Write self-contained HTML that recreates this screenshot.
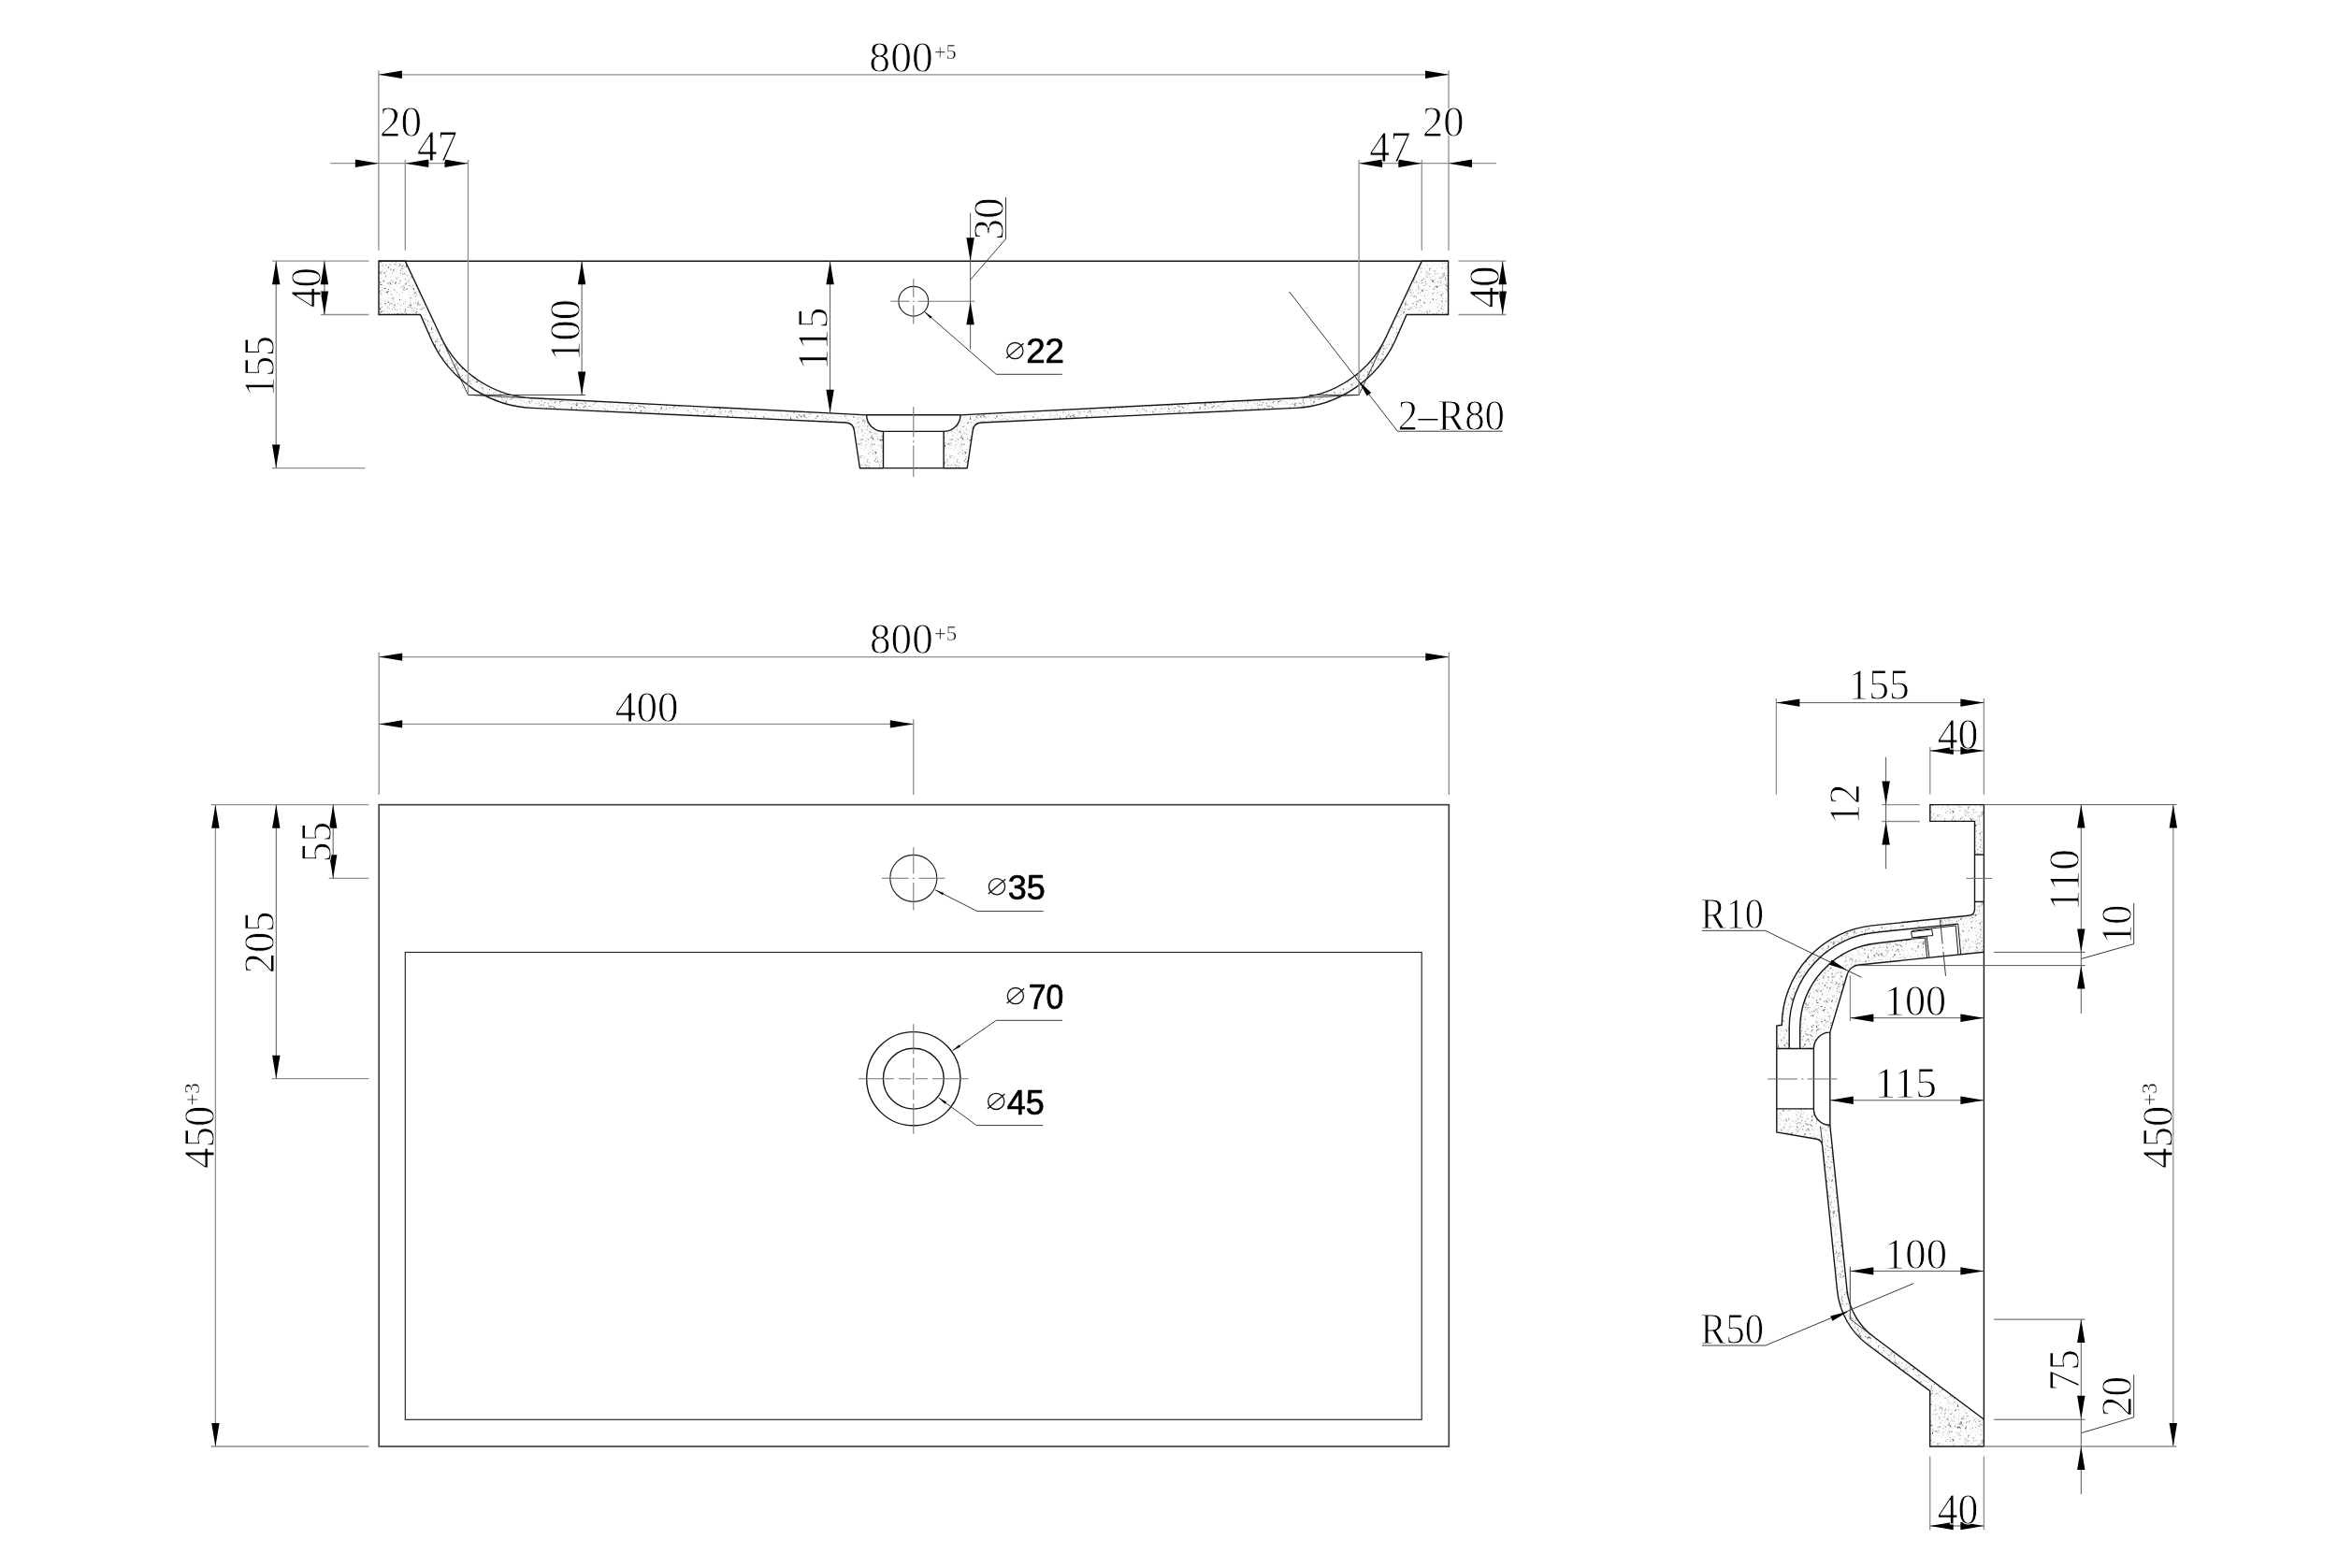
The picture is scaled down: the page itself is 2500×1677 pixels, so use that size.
<!DOCTYPE html>
<html><head><meta charset="utf-8"><title>Basin drawing</title><style>
html,body{margin:0;padding:0;background:#fff}
svg{display:block;will-change:transform}
text{font-family:"Liberation Serif",serif;fill:#000;stroke:#fff;stroke-width:0.9;stroke-linejoin:round}
text.ss{stroke-width:0.35}
text.n{font-family:"Liberation Sans",sans-serif;stroke:#000;stroke-width:0.7}
.k{fill:none;stroke:#161616;stroke-width:1.4;stroke-linejoin:miter}
.kh{fill:url(#hp);stroke:#161616;stroke-width:1.4;stroke-linejoin:miter}
.h{fill:url(#hp);stroke:none}
.kp{fill:none;stroke:#424242;stroke-width:1.7}
.k2{fill:none;stroke:#222;stroke-width:1.15}
.k3{fill:none;stroke:#151515;stroke-width:1.0}
.t{fill:none;stroke:#8e8e8e;stroke-width:1.3}
.t2{fill:none;stroke:#555;stroke-width:1.0}
.u{fill:none;stroke:#2e2e2e;stroke-width:0.95}
.c{fill:none;stroke:#747474;stroke-width:1.05}
.v{fill:none;stroke:none}
.d{fill:none;stroke:#111;stroke-width:1.3}
.a{fill:#000;stroke:none}
</style></head><body>
<svg width="2500" height="1677" viewBox="0 0 2500 1677">
<defs><pattern id="hp" width="96" height="96" patternUnits="userSpaceOnUse"><rect width="96" height="96" fill="#fdfdfd"/><path d="M5.57 48.71h.01M13.85 11.31h.01M52.58 6.03l-0.7 1.11M76.26 67.1h.01M14.59 46.94h.01M78.9 27.32h.01M2.17 44.32l1.69 0.32M12.42 23.77h.01M78.65 82.94h.01M0.39 40.22h.01M83.95 76.6h.01M9.94 60.89l0.79 0.61M32.65 5.05l1.17 0.39M44.73 46.45l0.53 0.98M79.57 15.5h.01M82.88 66.83h.01M21.77 49.69l1.13 0.1M21.16 21.78l-0.71 1.74M72.01 45.89h.01M86.87 77.42h.01M94.11 63.1h.01M79.31 20.26h.01M23.09 56.3h.01M12.58 87.36h.01M0.38 76.72h.01M69.62 53.42h.01M53.32 75.29h.01M6.96 23.1h.01M75.26 86.11h.01M21.08 91.44h.01M95.03 79.91h.01M49.5 32.56h.01M10.06 25.49h.01M78.62 24.83h.01M54.78 67.24l-0.73 1.09M8.04 82.2h.01M10.51 15.5l0.65 0.97M47.52 80.12h.01M66.02 94.31h.01M5.22 12.46h.01M24.54 15.67h.01M83.57 64.37h.01M28.13 44.11h.01M23.47 92.7h.01M19.29 48.45h.01M8.62 38.35l0.62 0.88M68.74 84.39h.01M70.45 77.97h.01M22.07 2.99h.01M93.9 89.88h.01M20.14 90.78h.01M85.14 67.52h.01M46.67 2.38h.01M43.27 28.99h.01M30.34 80.66h.01M86.55 27.82h.01M95.88 56.56h.01M26.41 4.63h.01M27.42 89.82h.01M49.05 18.23h.01M72.26 61.87l-0.93 0.22M45.33 32.99h.01M53.5 37.86l1.5 1.15M43.2 13.4l0.43 0.8M36.18 32.47h.01M82.83 20.73h.01M83.8 2.09h.01M43.9 52.94h.01M21.77 3.27h.01M78.72 22.16h.01M63.87 91.08h.01M20.44 93.52l1.25 0.24M89.43 31.61h.01M35.89 31.84l0.78 0.94M78.91 41.52h.01M35.78 88.27h.01M73.6 3.9l-1.07 0.28M71.74 86.26h.01M91.94 59.23h.01M30.38 26.46h.01M91.85 91.58h.01M23.74 6.21h.01M25.43 8.07h.01M68.14 42.91h.01M80.69 87.78h.01M20.89 35.4l1.06 1.09M62.56 19.53h.01M65.12 17.77l-1.17 0.87M6.07 9.73h.01M61.36 8.75h.01M39.34 27.2h.01M29.99 54.39h.01M82.97 95.68l-0.69 0.79M61.5 87.34h.01M35.6 48.43h.01M50.03 88.85h.01M77.26 92.82l-1.94 0.35M49.72 36.82h.01M69.59 86.14h.01M12.33 41.34h.01M70.28 78.24h.01M3.54 17.48h.01M65.25 85.96h.01M56.24 63.72l0.97 0.1M10.21 34.29h.01M12.94 89.91l1.5 0.46M23.86 86.74h.01M38.97 22.82h.01M71.21 43.44l0.63 0.56M75.69 50.23h.01M84.5 31.54h.01M20.35 59.77h.01M13.88 2.58h.01M33.11 13.62l-0.89 1.28M66.91 70.73h.01M10.28 19.75l-1.58 0.82M2.01 24.64h.01M81.73 59.35h.01M41.9 74.21h.01M17.71 47.48h.01M25.02 90.61l-0.82 1.13M10.55 61.11h.01M36.41 84.86h.01M33.45 31.36h.01M63.56 71.23h.01M74.25 55.6h.01M84.97 22.84h.01M67.5 80.99l0.85 0.84M50.13 15.45l-1.67 0.13M9.77 92.39h.01M18.83 61.25l0.29 0.79M60.71 44.47h.01M30.05 60.31h.01M64.82 89.3h.01M3.66 52.16h.01M90.3 49.85h.01M20.17 65.7h.01M11.75 94.51l0.83 0.97M33.8 25.46h.01M90.23 50.6h.01M37.63 20.35h.01M21.69 92.53h.01M81.66 25.67h.01M40.91 17.85h.01M27 23.52h.01M89.16 82.03h.01M86.96 75.27h.01M60.78 1.44h.01M62.97 24l1.29 1.16M63.87 80.69h.01M32.51 82.72h.01M50.45 73.98h.01M31.77 30.44h.01M60.94 75.28h.01M85.02 52.36h.01M73.22 9.73l-1.44 1.23M53.96 24.77h.01M5.24 54.48l-1.23 0.84M88.19 42.86h.01M0.46 65.64h.01M8.46 83.48l-0.69 0.84M70.42 17.99h.01M44.22 89.51h.01M68.85 1.09h.01M78.46 7.65h.01M42.12 64.98h.01M54.41 28.07h.01M67.51 79.43h.01M41.14 85.26h.01M78.33 85.19h.01M76 44.13h.01M18.16 18.46h.01M49.87 1.97h.01M78.61 92.49l0.82 0.6M11.51 92.09h.01M21.29 3.71h.01M62.08 94.6l-1.38 1.34M10.12 31.1l0.06 1M3.46 89.06h.01M83.21 85.32h.01M60.31 13.71l-0.91 1.15M13.89 83.59h.01M16.11 47.14h.01M10.96 93.95h.01M24.75 19.36h.01M95.82 88.81h.01M58.42 47.57l-0.57 1.55M77.91 55.96l-0.86 0.96M83.71 25.56h.01M35.24 15.69h.01M30.81 68.27h.01M17.51 9.86h.01M91.28 27.6h.01M28.19 39.03h.01M54.74 62.43h.01M29.81 23.26h.01M36.78 56.23h.01M27.34 94.8h.01M14.83 32.35h.01M69.41 28.12h.01M47.96 42.63h.01M34.34 57.09h.01M64.94 50.42h.01M29.45 66.31h.01M55.15 39.47l-0.68 0.64M58.85 77.43l-0.89 0.78M68.68 33.97h.01M43.18 37.02h.01M23.37 16.65l-1.14 0.1M38.71 6.28h.01M33.72 23.51h.01M14.97 67.76h.01M77.27 15.29h.01M36.18 92.01h.01M86.36 56.41h.01M25.96 74.09h.01M54.5 29.84l1.55 0.96M30.82 63.62h.01M34.7 48.04l0.6 0.89M12.11 68.8h.01M12.69 26.55h.01M60.37 17.44h.01M70.47 68.41l0.91 0.51M29.1 36.55h.01M4.55 23.47h.01M71.77 79.56l-1.29 0.22M60.3 43.47h.01M67.46 77.35h.01M67.87 64.35h.01M28.74 84.93h.01M73.55 79.79h.01M34.61 19.82h.01M34.85 16.14l-1.7 0.04M62.65 24.14l1.72 0.15M80.6 28.45h.01M81.19 88.96h.01M79.72 71.26l-1.01 0.62M35.38 52.91h.01M47.46 47.95h.01M86.78 15.79h.01M54.08 33.42l0.71 1.15M62.15 28.73h.01M8.18 63.41h.01M10.78 82.77l-0.11 1.1M46.97 53.19h.01M9.8 79.7l-1.46 0.18M1.46 57.05h.01M16.13 71.56h.01M65.33 79.26h.01M52.69 77.09h.01M64.82 24.44h.01M80.46 55.81l1.66 0.6M17.79 53.21h.01M83.81 58.64h.01M44.9 55.4h.01M0.57 55.6l0.25 1.97M26.24 48h.01M90.11 65.41h.01M52.87 38.97h.01M23.37 22.54l1.84 0.04M16.22 6.37h.01M88.44 56l-0.5 1.92M24.72 2.21h.01M67.62 20.96l-0.58 1.74M32.75 13.12h.01M5.52 39.77h.01M31.6 8.97l-0.68 0.61M72.63 8.63l1.38 0.26M76.85 44.17h.01M10.35 70.41h.01M38.58 82.95h.01M21.51 24.19h.01M28.65 95.45h.01M72.15 78.99h.01M46.61 85.53h.01M20.14 84.82h.01M28.57 2.34h.01M0.9 87.51h.01M41.33 10.07h.01M30.38 84.34h.01M13.04 41.13h.01M88.19 33.55h.01M84.78 70.21l0.59 0.65M83.91 68.9h.01M40.24 93.4h.01M24.45 58.65h.01M62.04 52.7h.01M56.86 95.5h.01M60.37 52.13h.01M50.12 45.76l-1.4 0.32M78.51 11.81h.01M43.47 8.45h.01M49.99 22.81h.01M36.59 1.71h.01M77.84 33.83h.01M35.75 63.9l-0.9 0.87M73.85 73.91h.01M7.41 78.48l-1.06 1.03M0.58 94.91h.01M49.05 40.34h.01M54.23 31.06h.01M39.81 63.25h.01M65.85 14.86h.01M4.01 80.27h.01M37.58 3.16h.01M21.44 52.39h.01M57.39 51.91l1.23 1.41M23.75 71.27h.01M57.18 44.29h.01M9.33 62.09h.01M11.29 44.91h.01M48.65 35.22h.01M19.53 12.2h.01M48.17 85.5h.01M22.01 72h.01M39.08 8.45h.01M65.17 14.52l0.86 0.62M72.14 61.09h.01M81.19 75.52h.01M24.19 80.48l0.14 1.07M0.43 46.95l-1.08 0.72M58.06 43.92l0.8 1.63M59.45 28.04h.01M11.59 65.56h.01M24.08 33.82h.01M82.78 49.33h.01M85.8 63.97h.01M42.63 91.95h.01M87.09 47.82h.01M71.98 3.37l-1.85 0.28M77.27 64.94h.01M68.13 66.32l-0.42 1.74M76.19 33.34h.01M10.41 24.98h.01M92.51 25.62h.01M33.95 90.23h.01M39.62 77.55h.01M64.26 86.55h.01M62.29 84.35h.01M67.56 58.79l-0.57 1.7M26.21 20.46l-1.03 1.68M0.33 60.41h.01M3.8 79.43h.01M60.43 32.65h.01M20.91 76.17h.01M77.64 51.56h.01M18.98 67.56h.01M6.02 19.74h.01M69.31 60.5h.01M4.25 16.82h.01M77.23 43.69l1.53 0.81M45.72 78.9l-0.28 1.38M20.09 24.19h.01M12.85 1.24h.01M46.51 61.39h.01M86.96 36.73h.01M60.85 71.19l-1.76 0.13M3.65 4.67h.01M88.25 25.24l-0.67 0.64M93.42 68.16h.01M15.63 49.16h.01M85.41 87.97h.01M57.08 76.75l-0.16 1.14M93.74 52.43l-1.2 1.36M81.44 9.74h.01M73.8 0.67l-0.86 1.25M41.35 84.3h.01M42.41 67.82h.01M33.45 31.14h.01M23.98 39.59h.01M85.08 88.41h.01M10.07 79.24h.01M66.22 92.87l1.17 1.48M71.62 72.3h.01M2.66 66.35h.01M57.39 66.71l0.8 0.17M34.7 13.65h.01M93.08 66h.01M17.08 9.61h.01M63.48 17.34l-1.26 0.07M62.61 54.68l1.82 0.08M12.49 92.46h.01M13.28 75.65h.01M50.21 10.7h.01M18.62 21.03h.01M11.36 6.52h.01M89.91 53.26h.01M19.71 63.64l-1.38 0.07M86.55 7.87l0.18 0.95M38.59 65.2h.01M95.96 43.83h.01M30.89 39.07h.01M2.2 35.9h.01M0.02 58.32h.01M53.94 68.33h.01M11.57 92.18l-0.1 1.49M85.11 5.47l-0.36 1.29M4.95 87.82l0.7 0.91M64.52 76.76h.01M63.68 73.62h.01M20.63 25.54l0.38 1.25M64.89 15.45h.01M67.67 92.77h.01M69.66 26.15l1.4 0.85M0.38 22.08h.01M94.77 1.85h.01M93.12 14.27h.01M5.28 8.06l-0.62 1.51M9.04 56.28h.01M77.19 75.96l-0.73 1.29M2.97 69.54h.01M30.28 69.23h.01M44.33 18.98h.01M74.44 10.2h.01M8.23 37.81h.01M40.88 32.45h.01M93.29 11.23h.01M70.46 12.44h.01M10.27 78.09h.01M16.59 71.5l0.45 1.73M82.85 55.19h.01M81.46 78.62h.01M35.97 33.88l1.43 1.24M64.99 62.64h.01M52.59 43.75h.01M75.09 83.51h.01M23.94 9.64l-0.86 0.64M77.03 91.59h.01M63.89 19.96h.01M92.03 66.81h.01M75.73 34.23h.01M19.37 28.97h.01M72.91 83.37h.01M40.69 57.8h.01M68.82 71.84h.01M68.36 68.22h.01M32.26 73.59l1.13 0.63M59.35 29.11l1 0.27M30.32 48.44h.01" stroke="#cfcfcf" stroke-width="0.9" stroke-linecap="round" fill="none"/><path d="M31.09 14.48l-0.14 1.23M6.71 8.71h.01M11.88 21.43h.01M17.35 55.83h.01M30.16 56.21h.01M50.42 84.01h.01M94.1 11.33h.01M66.75 57.06h.01M80.64 90.69h.01M5.82 67.34h.01M7.74 43.12h.01M22.4 46.56h.01M91.5 66.29h.01M2.45 83.94l0.85 0.87M50.71 14.07l-0.17 1.97M16.04 74.11h.01M80.68 46.03h.01M38.53 90.89l0.9 0.38M50.55 89.63h.01M56 86.81h.01M48.16 51.06l0.19 1M58.8 48.53h.01M43.43 51.2h.01M69.33 1.87h.01M1.74 31.82h.01M25.96 12.44h.01M6.95 90.08h.01M43.56 32.56h.01M25.71 12.41h.01M72.91 27.84l0.38 0.73M24.04 1.47h.01M67.85 61.05h.01M0.1 36.64h.01M56.22 50.8h.01M94.53 14.35h.01M56.07 85.71h.01M10.07 80.24h.01M60.12 65.34l-1.37 1.01M48.29 51.38l-0.75 0.81M7.15 25.49l-1.35 1.44M47.42 36.73h.01M73.63 59.23l0.99 0.49M71.35 29.22l1.1 0.21M64.51 66.45h.01M49.59 44.61l-0.98 0.34M78.71 92.94h.01M84.89 77.95h.01M90.31 52.73l-0.89 1M93.72 24.98h.01M22.96 24.8h.01M71.97 39.63h.01M92.9 12.08h.01M85.99 45.43l0.64 1.8M10.47 14.82h.01M90.38 69.29h.01M22.33 88.31h.01M12.28 24.17h.01M10.76 6.75h.01M37.26 21.46l0.79 1.1M29.51 2.09h.01M40.32 24.7h.01M28.31 91.38l0.99 0.84M86.22 84.82h.01M71.65 3.06h.01M86.11 2.91h.01M78.98 74.19h.01M59.55 64.71h.01M54.42 35.81l0.78 0.77M14.72 84.88h.01M38.02 95.28h.01M0.56 86.56h.01M39 84.75l1.46 0.07M60.2 29.4h.01M40.87 63.25h.01M2.24 59.41h.01M73.3 74.88l0.08 0.93M48.98 3.91l-1.16 1.29M49.1 5.21h.01M6.29 33.69l-1.07 0.36M78.3 13.78h.01M20 25.24h.01M11.05 50.95h.01M83.8 53.3h.01M10.04 95.32h.01M34.58 73.41l-0.59 0.62M78.7 24.35h.01M59.14 41.49h.01M12.67 21.82l1.23 0.01M56.55 19.6h.01M83.64 75.09h.01M1.1 61.91h.01M0.61 81.07h.01M32.21 71.97h.01M68.32 25.53h.01M71.41 90.69h.01M60.55 66.51h.01M45.07 80.61h.01M41.97 69.56h.01M60.88 79.21h.01M9.59 9.39l0.7 1.1M0.42 47.12h.01M66.93 75.55h.01M51.03 72.43h.01M94.45 76.31h.01M38.31 75.94h.01M55.1 71.91h.01M81.83 65.24h.01M75.11 68.46h.01M40.66 43.7h.01M74.71 37.32h.01M51.94 68.86h.01M79.58 50.08h.01M1.28 40.18h.01M77.72 60.89h.01M78.6 78.35h.01M41.14 61.18h.01M16.12 85.55h.01M18.95 66.51h.01M42.1 84.74h.01M22.48 13.38l0.1 0.97M47.17 47.82h.01M0.63 80.71h.01M92.22 7.24h.01M2.74 58.53h.01M31.72 94.24h.01M86.17 3.25h.01M79.46 38.76h.01M48.62 93.6h.01M59.2 60.17h.01M65.37 20.4h.01M30.57 41.34h.01M39.59 9.8l0.73 0.38M68.5 82.13l-0.65 1.52M15.94 82.65l0.6 1.36M34.87 61.91h.01M93.84 79.8h.01M0.16 25.25h.01M77.93 83.25h.01M81.71 77.48h.01M33.3 8.17h.01M58.26 65.06l1.19 1.22M74.13 22.36h.01M84.97 50.1h.01M34.83 54.19h.01M83.14 46.69h.01M8.03 4.9h.01M61.5 91.82h.01M64.98 28.68h.01M22.89 13.74l-0.65 0.8M64.15 20.27h.01M86.04 5.52h.01M17.29 73.96l0.88 0.22M80.82 82.99l-1.32 0.38M0.45 49.9h.01M49.28 50.93l-1.06 0.11M2.89 9.26l1.52 0.08M55.34 50.2l-1.52 0.66M4.34 11.81h.01M26.84 11.72l-0.52 1.76M14.13 54.99l-1.64 1M23.08 32.17h.01M23.93 40.53h.01M50.96 6.65h.01M84.93 3.3h.01M65.13 26.25h.01M59.64 24.06h.01M25.77 44.78l0.89 0.36M44.24 52.61h.01M82.74 22.9h.01M5.95 37.24h.01M70.92 71.35h.01M73.51 56.24h.01M58.3 36.44h.01M13.92 55.24l-1.15 0.3M1.03 4.55h.01M88.35 74.25h.01M49.68 49.66h.01M38.49 53.89h.01M92.59 46.72h.01M95.63 32.95h.01M15.01 27.83h.01M18.06 17.51h.01M33.91 95.4l0.48 1.68M80.85 56.28l0.01 1.46M25.54 62.09h.01M9.61 16.37h.01M9.55 86.77h.01M55.94 92.12h.01M57.85 92.16h.01M23.32 37.42h.01M29.68 84.03h.01M53.91 11.03h.01M22.77 3.35h.01M80.16 12.27h.01M48.46 21.82l-0.67 0.89M63.71 33.74h.01M68.8 24.45h.01M20.17 87.79l-0.73 1.04M89.3 66.4h.01M93.06 61.2h.01M5.7 34.35l0.54 0.8M32.02 78.28h.01M16.24 63.99h.01M18.92 67.36l0.71 1.16M10.45 46.93l-0.11 0.8M88.28 61.87h.01M22.98 3.96h.01M55.79 7.7l0.35 1.93M8.61 3.83l-0.52 0.61M27.19 63.52h.01M32.51 42.11h.01M2.67 18.13h.01M39.97 50.88h.01M10.85 49.27l0.25 0.85M42.19 82.89h.01M70.78 91.01l-0.29 0.87M65.23 37.69l-1.12 0.59M20.77 85.82l1.06 0.63M4.36 14h.01M83.75 74.33h.01M71 48.86h.01M31.03 94.89h.01M43.5 42.77h.01M34.27 74.35h.01M62.22 18.88h.01M62.3 38.91h.01M32.11 47.46h.01M94.8 5.38h.01M78.15 40.63h.01M53.28 63.11h.01M71.14 24.75h.01M43.5 26.71h.01M12.66 0.87h.01M14.33 17.03h.01M94.3 47.9h.01M22.21 19.51h.01M57.37 43.49h.01M9.36 16.2l0.92 1.67M66.19 3.64h.01M14.2 70.87l0.62 1.25M4.15 48.84h.01M34.81 1.02h.01M52.22 52.69h.01M87.22 4.75h.01M71.36 36.37h.01M50.52 58.83h.01M25.43 87.24h.01M16.55 78.9h.01M66.72 43.13h.01M72.85 14.39h.01M5.54 17.13h.01M35.68 4.21h.01M68.4 28.34h.01M2.46 56.91h.01M80.6 39.83h.01M42.22 47.16h.01M64.36 71.08l-0.78 1.24M5.28 65.37h.01M5.26 66.34h.01M19.39 5h.01M44.57 46.94h.01M4.91 30.17h.01M43.64 89.75h.01M5.54 41.64l-0.81 0.37M76.87 47.83h.01M55.88 30.6l-1.14 0.32M69.91 41.27l-0.81 0.49M27.91 33.4h.01M89.26 8.93h.01M33.05 90.66l0.67 1.16M28.63 6.66l-0.28 1.72M33.88 35.97l1.66 0.98M46.89 75.94h.01M2.97 37.75h.01M85.49 8.1h.01M57.15 75.27l1.09 1.06M94.36 3.96h.01M47.29 87.18h.01M90.4 79.27l-0.83 1.6M67.31 42.44h.01M21.52 85.43h.01M16.83 90.72h.01M60.66 36.08h.01M5.47 80.14h.01M13.87 56.4l0.56 1.6M84.23 15.57l0.48 0.72M43.22 80.36h.01M30.22 14.6h.01M53.64 64.38h.01M34.82 88.08h.01M6.71 52.66h.01M61.9 92.86h.01M17.83 83.68h.01M6.33 39.67h.01M64.11 55.47h.01M14.51 64.47h.01M86.24 86.29h.01M77 34.53l-1.04 0.58M5.67 42.79h.01M2.72 48.45l-0.66 1.53M56.15 38.41h.01M43.58 65.54h.01M32.8 18.23h.01M18.64 70.66h.01M91.04 88.31h.01M6.81 31.04h.01M12.12 19.19h.01M61.09 67.87l-0.56 0.66M45.18 38.42h.01M23.02 62.36h.01M13.61 87.27l1.45 1.35M53.37 78.85h.01M38.11 0.73l-1.53 0.9M43.97 11.73l0.21 0.91M73.19 14.19h.01M49.93 43.74h.01M62.26 87.97h.01M87.64 80.37l-0.98 1.53M80.34 95.45h.01M51.69 90.04h.01M1.31 24.98h.01M16.92 42.05h.01M92.57 61.76h.01M66.19 42.71l-1.18 0.26M82.08 77.08h.01M22.54 2.82l0.21 1.64M9 11.31l0.99 0.88M88.71 44.25l0.17 1.17M17.28 1.04h.01M2.35 45.15h.01M22.47 47.9h.01M18.39 71.9h.01M22.38 45.8h.01M47.24 95.22l-0.9 0.52M39.26 85.28h.01M92.82 83.56h.01M81.49 77.48h.01M11.19 23.4h.01M54.75 17.43h.01M22.71 35.16h.01M7.05 71.16h.01M65.08 68.08l-1.73 0.23M86.41 22.32h.01M34.15 67.63l0.05 0.82M73.61 80.21h.01M81.57 84.01l1.44 0.07M30.74 40.07h.01M25.24 76.01h.01M4.92 14.78h.01M13.27 18.5l-0.44 0.99M24.82 40.65h.01M61.42 66.36h.01M19.65 29.87h.01M8.56 4.71l-1.81 0.39M50.04 34.83h.01M46.42 24.25h.01M30.55 45.78h.01M59.4 10.08h.01M12.38 44.72h.01M85.61 86.81h.01M57.99 27.72h.01M6.78 6.5l0.15 1.27M29.91 83.9l-0.49 1.73M49.78 46.47h.01M3.35 56.72h.01M41.21 8.86h.01M41.61 36.54h.01M17.93 52.5h.01M19.91 2.25h.01M86.44 91.68h.01M53.76 13.79h.01M40.35 49.27l1.21 0.02M49.6 16.84h.01M19.39 56.21h.01M13.64 44.16h.01M42.22 93.41h.01M45.26 19l0.77 0.45" stroke="#8f8f8f" stroke-width="0.85" stroke-linecap="round" fill="none"/><path d="M55.4 38.08l-1.04 0.49M73.4 55.01h.01M34.44 84.88l0.92 0.57M64.92 5.18h.01M34.96 11.79h.01M31.65 21.41h.01M81.85 77.38h.01M24.88 66.48h.01M89.95 94.85h.01M8.14 63.42h.01M31.92 76.88h.01M12.57 1.37h.01M23.86 26.58h.01M53.93 72.96h.01M67.12 84.15h.01M53.71 90.55l1.23 0.5M63.38 13.73h.01M6.17 94.57h.01M18.19 45.58l-1.11 0.71M25.27 92.33h.01M4.2 80.19h.01M48.42 80.15h.01M13.61 50.31l-1.19 0.75M80.55 11.52h.01M47.72 21.12h.01M38.38 42.8h.01M79.26 82.12h.01M92.06 61.88h.01M22.54 23.72h.01M65.53 19.02h.01M48.47 19.7h.01M91.73 11.88l0.78 1.61M87.98 60.86l1.02 0.92M41.27 47.37l-1.37 0.98M30.68 34.74l1.39 0.99M31.27 94.1h.01M63.78 11.63h.01M77.61 62.72l0.14 1.78M11.44 18.2h.01M89.3 35.73h.01M24.96 74.67l-0.46 1.47M46.34 5.12h.01M86.81 59.55l-0.83 0.66M38.83 81.25l0.99 0.81M72.72 3.66l-0.45 1.39M91.28 13.07h.01M47.22 91.84l-1.51 1.18M76.58 25.42h.01M61.98 42.6h.01M1.19 52.89l1.24 0.9M48.67 61.59l0.65 0.96M4.66 85.38h.01M92.65 20.83l0.74 0.79M34.89 78.49h.01M6.33 83.31h.01M35.33 30.8h.01M51.64 20.79l-0.85 0.54M0.12 19.4h.01M38.52 37.88l-0.78 0.29M19.79 25.27h.01M38.85 71.13h.01M69.33 84.49h.01M52.63 12.02h.01M33.26 14.66h.01M64.17 85.82h.01M40.55 53.19h.01M0.6 18.23h.01M63.17 75.75h.01M62.95 35.41h.01M56.83 90.02h.01M37.03 75.48h.01M57.77 86.03h.01M19.24 72.02h.01M14.3 4.28h.01M10.19 60.74l-0.36 1.16M74.8 40.89h.01M43.99 90.93l-0.39 1.22M43.04 15.33h.01M86.66 86.84l-1.29 1.03M9.31 89.16h.01M43.42 32.62h.01M14.95 26.03h.01M93.95 1.54h.01M13.45 0.18h.01M17.84 41.78l-0.21 0.94M69.28 5.32h.01M11.59 68.6h.01M5.88 83.79h.01M37.32 40.37h.01M37.98 90.36h.01M77.22 87.63h.01M5.14 49.67h.01M2 13.38h.01M89.95 60.79h.01M11.56 57.05h.01M8.43 52.45h.01M15.22 6.41h.01M10.49 21.62h.01M59.16 81.6h.01M75.35 68.02l-0.74 0.32M54.91 40.12h.01M36.91 30.91h.01M80.97 80.46l0.43 1.84M16.39 30.54h.01M49.21 10.61h.01M78.77 95.06h.01M23.94 4.22h.01M30.22 86.29h.01M58.39 20.4l-0.06 1.45M87.26 74.4h.01M67.13 23.85h.01M61.28 17.25h.01M33.51 0.09h.01M27.49 4.12h.01M41.12 49.14l-0.62 0.58M49.48 42.72h.01M8.06 68.85h.01M78.69 67.74h.01M80.72 82.11h.01M93.24 87.24h.01M92.33 59.51l-0.81 1.3M28.52 54.83h.01M10.97 17.33h.01M72.66 11h.01M74.4 13.13l0.92 0.84M67.91 40.89h.01M83.72 54.04h.01M36.56 13.85h.01M66.19 77.59l0.47 0.86M48.17 83.81l1.5 0.97M50.7 91.87l-0.33 1.69M34.84 27.03h.01M69.76 52.92h.01M6.5 46.51h.01M57.7 7.61h.01M84.04 61.43l0.88 1.45M44.48 1.31h.01M74.5 29.69h.01M74.32 34.8h.01M53.3 17.45h.01M15.56 2.79h.01M39.35 88.24h.01M15.05 82.85h.01M82.88 17.5h.01M68.77 84.67l1.3 1.18M39.36 13.73l-0.64 1.8M19.05 11.15h.01M0.09 71.64h.01M50.3 50.64h.01M79.43 85.83l0.66 1.67M9.87 34.24h.01M31.11 23.22l-0.76 1.67M19.36 40.62h.01M88.78 18.39h.01M50.48 47.67h.01M95.82 78.42l0.71 1.23M30.05 24.48h.01M83.21 76.99h.01M76.94 19.23h.01M27.99 68.21h.01M57.24 17.3h.01M28.31 20.26l-1.01 0.27M9.68 9.14h.01M80.77 14.58h.01M88.64 95.63h.01M81.16 21.81l-0.6 1.87M31.84 80.86h.01M14.31 9.03l0.02 1.44M78.21 32.84h.01M88.4 1.03h.01M31.78 93.69h.01M46.05 47.74h.01M33.52 15.57h.01M71.57 12.95h.01M86.86 71.52h.01M56.68 41.79h.01M83.6 28.7h.01M90.81 11.12h.01M37.63 75.25h.01M32.6 57.11h.01M17.67 26.06h.01M37.86 47.97h.01M94.9 18.19l-0.07 0.8M42.98 72.1h.01M61.58 26.96h.01M52.25 40.39h.01M28.57 36.77h.01M17.97 29.7l0.71 1.12M60.5 24.93l-1.27 0.77M74.36 37.87h.01M32.81 37.69h.01M26.29 81.1h.01M21.72 83.29h.01M92.29 31.62l0.07 0.96M53.79 67.32h.01M15.71 60.69h.01M45.24 95.09h.01M68.18 90.75h.01M70.31 36.88h.01M36.38 0.88h.01M44.52 4.15h.01M21.96 37.66h.01M21.08 64.5h.01M94.16 62.79h.01M74.4 85.42h.01M35.24 51.58l-0.15 1.57M79.9 2.95h.01M0.94 18.24l-0.72 1.32M27.39 36.55h.01M61.58 45.29l-0.89 1.57M71.45 54.04h.01M82.36 10.56h.01M23.01 16.38l1.08 0.29M13.92 77.15h.01M82.3 35.3l1.15 0.99M91.87 25.82h.01M76.9 86.28l1.82 0.44M22.36 41.34l0.55 1.87M7.47 55.91h.01M28.88 24.55h.01M47.21 18.09h.01M68.83 22.02h.01M15.11 21.73h.01M68.76 92.04h.01M35.68 42.9h.01M26.74 3.59h.01M6.58 72.07h.01M4.92 27.65l0.84 0.29M15.74 51.06l1.47 0.89M24.5 45.04l-1.06 0.52M58.23 86.34h.01M39.41 61.04h.01M23.46 88.28h.01M69.89 72.46h.01M62.97 36.54l-0.15 1.19M78.78 33.15h.01M84.37 13.35h.01M85.89 45.17h.01M76.97 21.02h.01M13.75 91.84h.01M76.34 17.6h.01M88.81 5.05h.01M8.29 6.68h.01" stroke="#3a3a3a" stroke-width="0.85" stroke-linecap="round" fill="none"/></pattern></defs>
<rect width="2500" height="1677" fill="#fff"/>
<path class="kh" d="M405,279.2 L433.3,279.2 L471.4,360.2 A114.3 114.3 0 0 0 569.07,425.76 L926.6,443.8 A17.6 17.6 0 0 0 944.5,461.4 L944.5,500.6 L919.4,500.6 L913.4,460.5 Q912.4,452.4 904.6,452 L568.5,436.4 A125 125 0 0 1 461.9,364.8 L449.5,336.5 L405,336.5 Z"/>
<path class="kh" d="M1548.6,279.2 L1520.3,279.2 L1482.2,360.2 A114.3 114.3 0 0 1 1384.53,425.76 L1027,443.8 A17.6 17.6 0 0 1 1009.1,461.4 L1009.1,500.6 L1034.2,500.6 L1040.2,460.5 Q1041.2,452.4 1049,452 L1385.1,436.4 A125 125 0 0 0 1491.7,364.8 L1504.1,336.5 L1548.6,336.5 Z"/>
<line class="k" x1="404.9" y1="279.2" x2="1549" y2="279.2"/>
<line class="k" x1="926.6" y1="443.8" x2="1027" y2="443.8"/>
<line class="k" x1="944.5" y1="461.4" x2="1009.1" y2="461.4"/>
<line class="k" x1="919.4" y1="500.6" x2="1034.2" y2="500.6"/>
<polyline class="u" points="471.4,360.2 500.5,422.4 569,425.8"/>
<polyline class="u" points="1482.2,360.2 1453.1,422.4 1384.6,425.8"/>
<line class="u" x1="500.5" y1="422.4" x2="626" y2="422.4"/>
<line class="u" x1="1453.6" y1="422.4" x2="1400" y2="422.4"/>
<line class="c" x1="976.8" y1="434.9" x2="976.8" y2="467.5"/>
<line class="c" x1="976.8" y1="471.3" x2="976.8" y2="473.2"/>
<line class="c" x1="976.8" y1="476.5" x2="976.8" y2="510"/>
<circle class="k2" cx="976.8" cy="322.2" r="15.9"/>
<line class="c" x1="952.3" y1="322.2" x2="972.5" y2="322.2"/>
<line class="c" x1="976.2" y1="322.2" x2="978" y2="322.2"/>
<line class="c" x1="981.5" y1="322.2" x2="1042.2" y2="322.2"/>
<line class="c" x1="976.8" y1="298.2" x2="976.8" y2="318"/>
<line class="c" x1="976.8" y1="326.4" x2="976.8" y2="346.4"/>
<line class="t" x1="404.9" y1="75.3" x2="404.9" y2="267.8"/>
<line class="t" x1="1549" y1="75.3" x2="1549" y2="267.8"/>
<line class="t" x1="404.9" y1="79.8" x2="1549" y2="79.8"/>
<polygon class="a" points="404.9,79.8 429.9,75.6 429.9,84"/>
<polygon class="a" points="1549,79.8 1524,84 1524,75.6"/>
<text class="s" font-size="46" transform="translate(929.36 76.9) scale(0.99 1)">800</text>
<text class="s ss" font-size="23" transform="translate(998.91 62.5) scale(0.97 1)">+5</text>
<line class="t" x1="433.3" y1="170.9" x2="433.3" y2="267.8"/>
<line class="t" x1="500.5" y1="170.9" x2="500.5" y2="422.4"/>
<line class="t" x1="353.3" y1="174.7" x2="500.5" y2="174.7"/>
<polygon class="a" points="404.9,174.7 379.9,178.9 379.9,170.5"/>
<polygon class="a" points="433.3,174.7 458.3,170.5 458.3,178.9"/>
<polygon class="a" points="500.5,174.7 475.5,178.9 475.5,170.5"/>
<text class="s" font-size="46" transform="translate(406.04 146.4) scale(0.98 1)">20</text>
<text class="s" font-size="46" transform="translate(445.98 172) scale(0.94 1)">47</text>
<line class="t" x1="1520.3" y1="170.9" x2="1520.3" y2="267.8"/>
<line class="t" x1="1453.1" y1="170.9" x2="1453.1" y2="422.4"/>
<line class="t" x1="1453.1" y1="174.7" x2="1600" y2="174.7"/>
<polygon class="a" points="1549,174.7 1574,170.5 1574,178.9"/>
<polygon class="a" points="1520.3,174.7 1495.3,178.9 1495.3,170.5"/>
<polygon class="a" points="1453.1,174.7 1478.1,170.5 1478.1,178.9"/>
<text class="s" font-size="46" transform="translate(1464.36 173) scale(0.96 1)">47</text>
<text class="s" font-size="46" transform="translate(1521.06 146) scale(0.97 1)">20</text>
<line class="t" x1="291" y1="279.2" x2="394.4" y2="279.2"/>
<line class="t" x1="291" y1="500.6" x2="390.5" y2="500.6"/>
<line class="t2" x1="295.2" y1="279.2" x2="295.2" y2="500.6"/>
<polygon class="a" points="295.2,279.2 299.4,304.2 291,304.2"/>
<polygon class="a" points="295.2,500.6 291,475.6 299.4,475.6"/>
<text class="s" font-size="46" transform="translate(293.3 424.59) rotate(-90) scale(0.95 1)">155</text>
<line class="t" x1="343" y1="336.5" x2="394.4" y2="336.5"/>
<line class="t2" x1="346.9" y1="279.2" x2="346.9" y2="336.5"/>
<polygon class="a" points="346.9,279.2 351.1,304.2 342.7,304.2"/>
<polygon class="a" points="346.9,336.5 342.7,311.5 351.1,311.5"/>
<text class="s" font-size="46" transform="translate(343.2 328.92) rotate(-90) scale(0.93 1)">40</text>
<line class="t" x1="1559.5" y1="279.2" x2="1610.5" y2="279.2"/>
<line class="t" x1="1559.5" y1="336.5" x2="1610.5" y2="336.5"/>
<line class="t2" x1="1606.7" y1="279.2" x2="1606.7" y2="336.5"/>
<polygon class="a" points="1606.7,279.2 1610.9,304.2 1602.5,304.2"/>
<polygon class="a" points="1606.7,336.5 1602.5,311.5 1610.9,311.5"/>
<text class="s" font-size="46" transform="translate(1602.7 329.55) rotate(-90) scale(0.98 1)">40</text>
<line class="t2" x1="622.1" y1="279.2" x2="622.1" y2="422.4"/>
<polygon class="a" points="622.1,279.2 626.3,304.2 617.9,304.2"/>
<polygon class="a" points="622.1,422.4 617.9,397.4 626.3,397.4"/>
<text class="s" font-size="46" transform="translate(619.5 386.45) rotate(-90) scale(0.96 1)">100</text>
<line class="t2" x1="887.6" y1="279.2" x2="887.6" y2="441.8"/>
<polygon class="a" points="887.6,279.2 891.8,304.2 883.4,304.2"/>
<polygon class="a" points="887.6,441.8 883.4,416.8 891.8,416.8"/>
<text class="s" font-size="46" transform="translate(885.2 395.91) rotate(-90) scale(1 1)">115</text>
<line class="t2" x1="1037.6" y1="227.7" x2="1037.6" y2="373.6"/>
<polygon class="a" points="1037.6,279.2 1033.4,254.2 1041.8,254.2"/>
<polygon class="a" points="1037.6,322.2 1041.8,347.2 1033.4,347.2"/>
<polyline class="u" points="1037.6,299.2 1075.5,255.6 1075.5,211"/>
<text class="s" font-size="46" transform="translate(1073.2 256.5) rotate(-90) scale(0.98 1)">30</text>
<polyline class="u" points="988.6,333.4 1065.2,400.3 1135.8,400.3"/>
<polygon class="a" points="988.6,333.4 996.64,338.63 994.87,340.67"/>
<circle class="d" cx="1085.4" cy="375.1" r="8.6"/>
<line class="d" x1="1076.2" y1="382.9" x2="1094.6" y2="367.2"/>
<text class="n" font-size="37.5" transform="translate(1097.15 388) scale(0.98 1)">22</text>
<polyline class="u" points="1378.6,312 1494.4,461.2 1606.7,461.2"/>
<polygon class="a" points="1452.6,407.2 1466.23,420.04 1461.65,423.59"/>
<text class="s" font-size="46" transform="translate(1494.85 459.6) scale(0.93 1)">2–R80</text>
<rect class="kp" x="405.2" y="860.7" width="1144.1" height="686.3"/>
<rect class="k2" x="433.3" y="1018.5" width="1086.9" height="499.8"/>
<circle class="k2" cx="976.8" cy="939.3" r="25"/>
<line class="c" x1="943" y1="939.3" x2="971.5" y2="939.3"/>
<line class="c" x1="975.8" y1="939.3" x2="977.8" y2="939.3"/>
<line class="c" x1="982.5" y1="939.3" x2="1010.4" y2="939.3"/>
<line class="c" x1="976.8" y1="906.3" x2="976.8" y2="934.5"/>
<line class="c" x1="976.8" y1="944" x2="976.8" y2="973.6"/>
<polyline class="u" points="1000.1,951.8 1045,974.6 1115.6,974.6"/>
<polygon class="a" points="1000.1,951.8 1009.18,954.9 1007.96,957.3"/>
<circle class="d" cx="1066" cy="948.2" r="8.6"/>
<line class="d" x1="1056.8" y1="956" x2="1075.2" y2="940.3"/>
<text class="n" font-size="37.5" transform="translate(1077.68 961.8) scale(0.96 1)">35</text>
<circle class="k" cx="976.8" cy="1153.7" r="50.1"/>
<circle class="k" cx="976.8" cy="1153.7" r="32.4"/>
<line class="c" x1="917.9" y1="1153.7" x2="1035.6" y2="1153.7" stroke-dasharray="38 5 13 5 13 5 39"/>
<line class="c" x1="976.8" y1="1095.3" x2="976.8" y2="1212.8" stroke-dasharray="32 4 11 5 13 5 11 4 33"/>
<polyline class="u" points="1018.5,1123.8 1065.2,1091.3 1136.1,1091.3"/>
<polygon class="a" points="1018.5,1123.8 1025.53,1117.27 1027.07,1119.48"/>
<circle class="d" cx="1085.9" cy="1065.1" r="8.6"/>
<line class="d" x1="1076.7" y1="1072.9" x2="1095.1" y2="1057.2"/>
<text class="n" font-size="37.5" transform="translate(1099.81 1079.3) scale(0.9 1)">70</text>
<polyline class="u" points="1003.6,1174 1044.2,1203.6 1115.2,1203.6"/>
<polygon class="a" points="1003.6,1174 1012.07,1178.51 1010.48,1180.69"/>
<circle class="d" cx="1065.2" cy="1177.9" r="8.6"/>
<line class="d" x1="1056" y1="1185.7" x2="1074.4" y2="1170"/>
<text class="n" font-size="37.5" transform="translate(1076.76 1192.3) scale(0.96 1)">45</text>
<line class="t" x1="405.2" y1="697.7" x2="405.2" y2="850.1"/>
<line class="t" x1="1549.3" y1="697.7" x2="1549.3" y2="850.1"/>
<line class="t" x1="405.2" y1="702.6" x2="1549.3" y2="702.6"/>
<polygon class="a" points="405.2,702.6 430.2,698.4 430.2,706.8"/>
<polygon class="a" points="1549.3,702.6 1524.3,706.8 1524.3,698.4"/>
<text class="s" font-size="46" transform="translate(930.08 699.3) scale(0.98 1)">800</text>
<text class="s ss" font-size="23" transform="translate(998.99 685) scale(0.99 1)">+5</text>
<line class="t" x1="405.2" y1="774.4" x2="976.8" y2="774.4"/>
<line class="t" x1="976.8" y1="769.3" x2="976.8" y2="850.1"/>
<polygon class="a" points="405.2,774.4 430.2,770.2 430.2,778.6"/>
<polygon class="a" points="976.8,774.4 951.8,778.6 951.8,770.2"/>
<text class="s" font-size="46" transform="translate(657.85 771.5) scale(0.98 1)">400</text>
<line class="t" x1="225.7" y1="860.7" x2="394.4" y2="860.7"/>
<line class="t" x1="225.7" y1="1547" x2="394.4" y2="1547"/>
<line class="t" x1="230.4" y1="860.7" x2="230.4" y2="1547"/>
<polygon class="a" points="230.4,860.7 234.6,885.7 226.2,885.7"/>
<polygon class="a" points="230.4,1547 226.2,1522 234.6,1522"/>
<text class="s" font-size="46" transform="translate(229.3 1249.65) rotate(-90) scale(0.97 1)">450</text>
<text class="s ss" font-size="23" transform="translate(213.1 1182.62) rotate(-90)">+3</text>
<line class="t" x1="290.8" y1="1153.7" x2="394.4" y2="1153.7"/>
<line class="t2" x1="295.3" y1="860.7" x2="295.3" y2="1153.7"/>
<polygon class="a" points="295.3,860.7 299.5,885.7 291.1,885.7"/>
<polygon class="a" points="295.3,1153.7 291.1,1128.7 299.5,1128.7"/>
<text class="s" font-size="46" transform="translate(293 1041.34) rotate(-90) scale(0.97 1)">205</text>
<line class="t" x1="351.7" y1="939.3" x2="394.4" y2="939.3"/>
<line class="t2" x1="356.2" y1="860.7" x2="356.2" y2="939.3"/>
<polygon class="a" points="356.2,860.7 360.4,885.7 352,885.7"/>
<polygon class="a" points="356.2,939.3 352,914.3 360.4,914.3"/>
<text class="s" font-size="46" transform="translate(354 922.17) rotate(-90) scale(0.94 1)">55</text>
<path class="h" d="M2121.4,860.6 L2063.8,860.6 L2063.8,878.4 L2111.5,878.4 L2111.5,914.1 L2121.4,914.1 Z"/>
<path class="h" d="M2121.4,964.4 L2111.5,964.4 L2111.5,972.6 Q2111.5,978.6 2105,979.3 L2002,989.9 A107.8 107.8 0 0 0 1905.3,1096.1 L1905.3,1096.3 L1899.8,1097.1 L1899.8,1121.5 L1913.2,1121.5 L1913.2,1098.5 A102.5 102.5 0 0 1 2007.5,997 L2093.7,988.1 L2096.6,1020.8 L2121.4,1018.2 Z"/>
<path class="h" d="M2058.5,1003 L2007.4,1008.8 A92 92 0 0 0 1924.7,1100 L1924.7,1121.5 L1939.4,1121.5 A17.4 17.4 0 0 1 1956.8,1104.1 L1975.2,1042.2 A14.3 14.3 0 0 1 1987.4,1032 L2060.5,1024.5 Z"/>
<path class="h" d="M1899.8,1185.9 L1939.4,1185.9 A17.4 17.4 0 0 0 1956.8,1203.3 L1975,1379.7 A71.5 71.5 0 0 0 2003.25,1429.56 L2121.4,1518 L2121.4,1547 L2063.7,1547 L2063.7,1487.6 L1996.96,1437.97 A82 82 0 0 1 1964.6,1380.8 L1948.6,1225 Q1947.8,1219.2 1942.6,1218.2 L1899.8,1210.9 Z"/>
<line class="k" x1="2121.4" y1="860.6" x2="2121.4" y2="1547"/>
<path class="k" d="M2121.4,860.6 L2063.8,860.6 L2063.8,878.4 L2111.5,878.4 L2111.5,972.6 Q2111.5,978.6 2105,979.3 L2002,989.9 A107.8 107.8 0 0 0 1905.3,1096.1 L1905.3,1096.3 L1899.8,1097.1 L1899.8,1210.9 L1942.6,1218.2 Q1947.8,1219.2 1948.6,1225 L1964.6,1380.8 A82 82 0 0 0 1996.96,1437.97 L2063.7,1487.6 L2063.7,1547 L2121.4,1547"/>
<line class="k" x1="2111.5" y1="914.1" x2="2121.4" y2="914.1"/>
<line class="k" x1="2111.5" y1="964.4" x2="2121.4" y2="964.4"/>
<path class="k" d="M2093.7,988.1 L2007.5,997 A102.5 102.5 0 0 0 1913.2,1098.5 L1913.2,1121.5"/>
<path class="k" d="M2044.7,1004.2 L2007.4,1008.8 A92 92 0 0 0 1924.7,1100 L1924.7,1121.5"/>
<path class="k" d="M2121.4,1018.2 L1987.4,1032 A14.3 14.3 0 0 0 1975.2,1042.2 L1956.8,1104.1 A17.4 17.4 0 0 0 1939.4,1121.5 L1939.4,1185.9 A17.4 17.4 0 0 0 1956.8,1203.3 L1975,1379.7 A71.5 71.5 0 0 0 2003.25,1429.56 L2121.4,1518"/>
<line class="k" x1="1956.8" y1="1104.1" x2="1956.8" y2="1203.3"/>
<line class="k" x1="1899.8" y1="1121.5" x2="1939.4" y2="1121.5"/>
<line class="k" x1="1899.8" y1="1185.9" x2="1939.4" y2="1185.9"/>
<polyline class="k3" points="2044.2,995.5 2091.2,989.9 2093.9,1020.6"/>
<polyline class="k3" points="2093.7,988.1 2096.6,1020.4"/>
<polyline class="k3" points="2043.5,996.7 2065.6,993.9 2066.8,1000.5 2044.7,1002.8 2043.5,996.7"/>
<polyline class="k3" points="2044.7,1002.8 2060.2,1001.6 2062.8,1023.6"/>
<polyline class="k3" points="2044.7,1004.2 2058.5,1003 2060.5,1023.9"/>
<line class="u" x1="2074.5" y1="983.5" x2="2077.08" y2="1009.43"/>
<line class="u" x1="2077.44" y1="1013.05" x2="2077.56" y2="1014.25"/>
<line class="u" x1="2077.92" y1="1017.87" x2="2080.5" y2="1043.8"/>
<line class="c" x1="2102.5" y1="939.4" x2="2130.2" y2="939.4"/>
<line class="c" x1="1890.2" y1="1154" x2="1922" y2="1154"/>
<line class="c" x1="1926.5" y1="1154" x2="1928.5" y2="1154"/>
<line class="c" x1="1932.5" y1="1154" x2="1964.6" y2="1154"/>
<line class="u" x1="1946.5" y1="1204.5" x2="1948.7" y2="1222.5"/>
<polyline class="u" points="1978.3,1354.7 1978.3,1410.8 2003.25,1429.56"/>
<line class="t" x1="1899.4" y1="747" x2="1899.4" y2="849.6"/>
<line class="t" x1="2121.4" y1="747" x2="2121.4" y2="849.6"/>
<line class="t2" x1="1899.4" y1="751.6" x2="2121.4" y2="751.6"/>
<polygon class="a" points="1899.4,751.6 1924.4,747.4 1924.4,755.8"/>
<polygon class="a" points="2121.4,751.6 2096.4,755.8 2096.4,747.4"/>
<text class="s" font-size="46" transform="translate(1976.39 748.4) scale(0.95 1)">155</text>
<line class="t" x1="2063.8" y1="799" x2="2063.8" y2="849.6"/>
<line class="t2" x1="2063.8" y1="802.9" x2="2121.4" y2="802.9"/>
<polygon class="a" points="2063.8,802.9 2088.8,798.7 2088.8,807.1"/>
<polygon class="a" points="2121.4,802.9 2096.4,807.1 2096.4,798.7"/>
<text class="s" font-size="46" transform="translate(2071.77 800.8) scale(0.95 1)">40</text>
<line class="t" x1="2012.2" y1="860.6" x2="2052.8" y2="860.6"/>
<line class="t" x1="2012.2" y1="878.5" x2="2052.8" y2="878.5"/>
<line class="t2" x1="2016.6" y1="809.8" x2="2016.6" y2="929.2"/>
<polygon class="a" points="2016.6,860.6 2012.4,835.6 2020.8,835.6"/>
<polygon class="a" points="2016.6,878.5 2020.8,903.5 2012.4,903.5"/>
<text class="s" font-size="46" transform="translate(1987.9 881.57) rotate(-90) scale(0.94 1)">12</text>
<line class="t2" x1="2121.4" y1="860.6" x2="2327.4" y2="860.6"/>
<line class="t2" x1="2121.4" y1="1547" x2="2327.4" y2="1547"/>
<line class="t" x1="2323.8" y1="860.6" x2="2323.8" y2="1547"/>
<polygon class="a" points="2323.8,860.6 2328,885.6 2319.6,885.6"/>
<polygon class="a" points="2323.8,1547 2319.6,1522 2328,1522"/>
<text class="s" font-size="46" transform="translate(2322.6 1249.65) rotate(-90) scale(0.97 1)">450</text>
<text class="s ss" font-size="23" transform="translate(2305.9 1182.62) rotate(-90)">+3</text>
<line class="t2" x1="2225.3" y1="860.6" x2="2225.3" y2="1083.9"/>
<line class="t2" x1="2132.1" y1="1018.4" x2="2229.6" y2="1018.4"/>
<line class="t2" x1="1988" y1="1032.6" x2="2229.6" y2="1032.6"/>
<polygon class="a" points="2225.3,860.6 2229.5,885.6 2221.1,885.6"/>
<polygon class="a" points="2225.3,1018.4 2221.1,993.4 2229.5,993.4"/>
<polygon class="a" points="2225.3,1032.6 2229.5,1057.6 2221.1,1057.6"/>
<text class="s" font-size="46" transform="translate(2222.7 974.12) rotate(-90) scale(0.98 1)">110</text>
<polyline class="u" points="2225.8,1025.4 2281.7,1009.5 2281.7,965.8"/>
<text class="s" font-size="46" transform="translate(2279.1 1009.8) rotate(-90) scale(0.92 1)">10</text>
<line class="t2" x1="2132.1" y1="1411.1" x2="2229.6" y2="1411.1"/>
<line class="t2" x1="2132.1" y1="1518.2" x2="2229.6" y2="1518.2"/>
<line class="t2" x1="2225.3" y1="1411.1" x2="2225.3" y2="1598"/>
<polygon class="a" points="2225.3,1411.1 2229.5,1436.1 2221.1,1436.1"/>
<polygon class="a" points="2225.3,1517.8 2221.1,1492.8 2229.5,1492.8"/>
<polygon class="a" points="2225.3,1547 2229.5,1572 2221.1,1572"/>
<text class="s" font-size="46" transform="translate(2222.7 1487.93) rotate(-90) scale(0.98 1)">75</text>
<polyline class="u" points="2225.8,1532.5 2281.7,1515.8 2281.7,1470.4"/>
<text class="s" font-size="46" transform="translate(2279.1 1515.08) rotate(-90) scale(0.94 1)">20</text>
<line class="t" x1="1978.4" y1="1043.3" x2="1978.4" y2="1092.1"/>
<line class="t2" x1="1978.4" y1="1088.7" x2="2121.4" y2="1088.7"/>
<polygon class="a" points="1978.4,1088.7 2003.4,1084.5 2003.4,1092.9"/>
<polygon class="a" points="2121.4,1088.7 2096.4,1092.9 2096.4,1084.5"/>
<text class="s" font-size="46" transform="translate(2014.84 1085.7) scale(0.96 1)">100</text>
<line class="t2" x1="1956.8" y1="1176.8" x2="2121.4" y2="1176.8"/>
<polygon class="a" points="1956.8,1176.8 1981.8,1172.6 1981.8,1181"/>
<polygon class="a" points="2121.4,1176.8 2096.4,1181 2096.4,1172.6"/>
<text class="s" font-size="46" transform="translate(2004.43 1174.1) scale(0.99 1)">115</text>
<line class="t2" x1="1978.3" y1="1359.4" x2="2121.4" y2="1359.4"/>
<polygon class="a" points="1978.3,1359.4 2003.3,1355.2 2003.3,1363.6"/>
<polygon class="a" points="2121.4,1359.4 2096.4,1363.6 2096.4,1355.2"/>
<text class="s" font-size="46" transform="translate(2015.04 1357.3) scale(0.97 1)">100</text>
<line class="t" x1="2063.7" y1="1557.6" x2="2063.7" y2="1636.4"/>
<line class="t" x1="2121.4" y1="1557.6" x2="2121.4" y2="1636.4"/>
<line class="t" x1="2063.7" y1="1632" x2="2121.4" y2="1632"/>
<polygon class="a" points="2063.7,1632 2088.7,1627.8 2088.7,1636.2"/>
<polygon class="a" points="2121.4,1632 2096.4,1636.2 2096.4,1627.8"/>
<text class="s" font-size="46" transform="translate(2071.77 1630) scale(0.95 1)">40</text>
<polyline class="u" points="1819.8,995.3 1887.6,995.3 1990.5,1045.3"/>
<polygon class="a" points="1975.8,1038 1956.09,1031.65 1958.63,1026.43"/>
<text class="s" font-size="46" transform="translate(1818.59 992.5) scale(0.88 1)">R10</text>
<polyline class="u" points="1819.8,1439 1887.8,1439 2046.3,1372.6"/>
<polygon class="a" points="1976.8,1402.4 1959.47,1412.8 1957.23,1407.45"/>
<text class="s" font-size="46" transform="translate(1818.59 1437) scale(0.88 1)">R50</text>
</svg>
</body></html>
